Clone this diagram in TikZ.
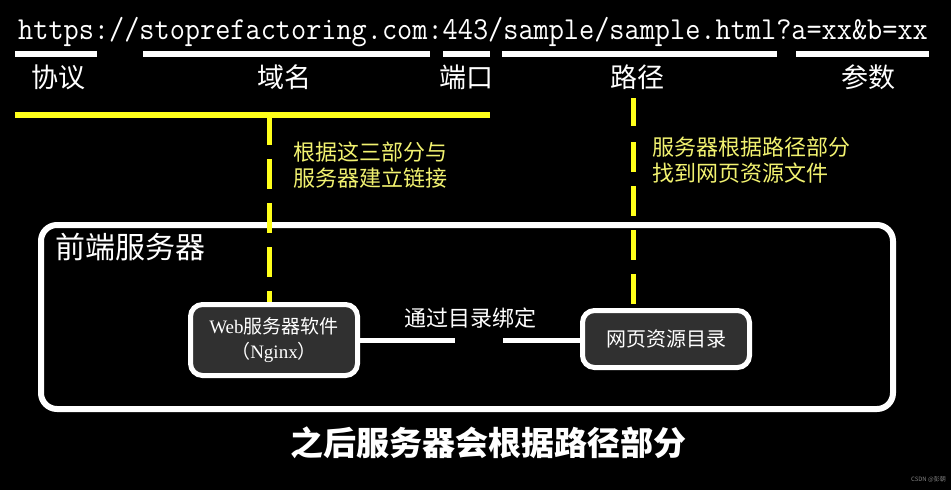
\documentclass[tikz,border=0pt]{standalone}
\usepackage{fontspec}
\setmainfont{Liberation Serif}
\newfontfamily\cjk{Noto Sans CJK SC}
\definecolor{barY}{HTML}{FFFF1A}
\definecolor{txtY}{HTML}{F2F270}
\definecolor{boxG}{HTML}{303030}
\begin{document}
\begin{tikzpicture}[x=1pt,y=-1pt,
  wbar/.style={white,line width=6pt},
  ybar/.style={barY,line width=6pt},
  ydash/.style={barY,line width=5pt,dash pattern=on 30pt off 14pt},
  lbl/.style={white,inner sep=0pt,font=\cjk\fontsize{27}{30}\selectfont},
  ytxt/.style={txtY,inner sep=0pt,anchor=north west,align=left,font=\cjk\fontsize{22}{26}\selectfont},
  srvbox/.style={draw=white,fill=boxG,line width=5pt,rounded corners=12pt,text=white,align=center,inner sep=0pt},
  conn/.style={white,line width=5pt}]
\fill[black] (0,0) rectangle (951,490);
\useasboundingbox (0,0) rectangle (951,490);
% URL
\node[anchor=base west,inner sep=0pt,white,xscale=0.92,font=\ttfamily\fontsize{32}{34}\selectfont] (url) at (18,39) {https://stoprefactoring.com:443/sample/sample.html?a=xx\&b=xx};
% white underline bars
\draw[wbar] (15,54) -- (97,54);
\draw[wbar] (143,54) -- (430,54);
\draw[wbar] (443,54) -- (490,54);
\draw[wbar] (502,54) -- (777,54);
\draw[wbar] (796,54) -- (929,54);
% labels
\node[lbl] (proto) at (58,77) {协议};
\node[lbl] (domain) at (284,77) {域名};
\node[lbl] (port) at (466,77) {端口};
\node[lbl] (path) at (637,77) {路径};
\node[lbl] (param) at (868,77) {参数};
% yellow bar
\draw[ybar] (15,115) -- (490,115);
\coordinate (ya) at (269,115);
\coordinate (yb) at (633,98);
\coordinate (yb2) at (633,126);
% big box
\draw[white,line width=6pt,rounded corners=16pt] (41,225) rectangle (893,409);
\node[lbl,anchor=west,font=\cjk\fontsize{30}{32}\selectfont] (front) at (55,247) {前端服务器};
% server boxes
\node[srvbox,minimum width=167pt,minimum height=71pt,font=\fontsize{19}{25}\selectfont] (web) at (274,340) {Web{\cjk 服务器软件}\\{\cjk （}Nginx{\cjk ）}};
\node[srvbox,minimum width=167pt,minimum height=57pt,font=\cjk\fontsize{20}{22}\selectfont] (res) at (666,339) {网页资源目录};
% yellow dashed lines
\draw[ydash] (ya) -- (ya |- web.north);
\draw[barY,line width=5pt] (yb) -- (yb2);
\draw[ydash] (633,142) -- (yb |- res.north);
% yellow texts
\node[ytxt] (t1) at (293,142) {根据这三部分与\\服务器建立链接};
\node[ytxt] (t2) at (652,137) {服务器根据路径部分\\找到网页资源文件};
% connector
\coordinate (gl) at (455,340);
\coordinate (gr) at (503,340);
\draw[conn] (web.east) -- (gl);
\draw[conn] (gr) -- (res.west |- gr);
\node[white,inner sep=0pt,font=\cjk\fontsize{22}{24}\selectfont] (bind) at (470,318) {通过目录绑定};
% bottom caption
\node[white,inner sep=0pt,font=\cjk\bfseries\fontsize{33}{36}\selectfont] (cap) at (488,443) {之后服务器会根据路径部分};
\node[gray,inner sep=0pt,anchor=east,font=\cjk\fontsize{6}{7}\selectfont] (wm) at (946,479) {CSDN @彭朝};
\end{tikzpicture}
\end{document}
